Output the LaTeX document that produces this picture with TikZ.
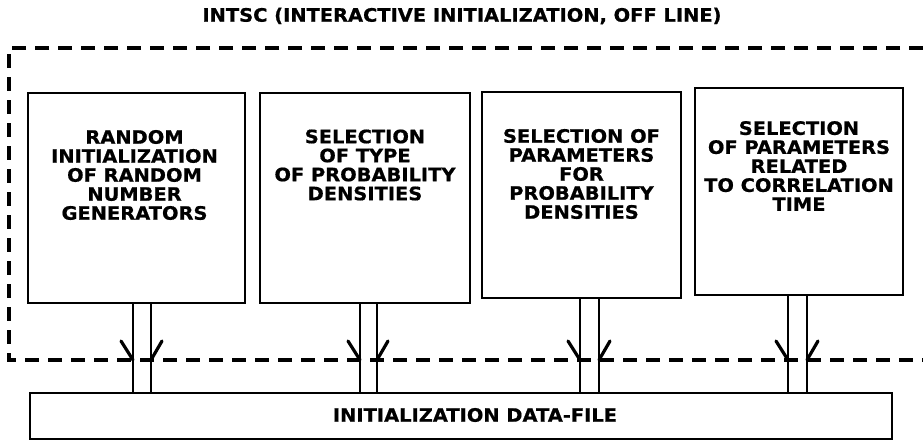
\documentclass[tikz,border=0pt]{standalone}
\usepackage{fontspec}
\usetikzlibrary{calc}
\newfontfamily\labfont{DejaVu Sans Bold}[FakeStretch=1.05, FakeBold=0.7]
\begin{document}
\begin{tikzpicture}[x=1pt,y=-1pt,
  box/.style={draw, line width=2.4pt, inner sep=0pt},
  lab/.style={align=center, inner sep=0pt,
    font=\labfont\fontsize{18.5}{19}\selectfont},
  frame/.style={line width=3.2pt, dash pattern=on 14pt off 9pt},
  pipe/.style={line width=2.8pt},
  barb/.style={line width=3.2pt, line cap=round}]
\useasboundingbox (0,0) rectangle (923,442);

% title of the interactive (off line) part
\node[lab] (title) at (462,16) {INTSC (INTERACTIVE INITIALIZATION, OFF LINE)};

% dashed boundary of the off-line part, open to the right
\coordinate (ftr) at (923,48);
\coordinate (ftl) at (9,48);
\coordinate (fbl) at (9,360);
\coordinate (fbr) at (923,360);
\draw[frame] (ftr) -- (ftl) -- (fbl) -- (fbr);

% the four initialization steps
\node[box, minimum width=217pt, minimum height=210pt] (b1) at (136.5,198) {};
\node[box, minimum width=210pt, minimum height=210pt] (b2) at (365,198) {};
\node[box, minimum width=199pt, minimum height=206pt] (b3) at (581.5,195) {};
\node[box, minimum width=208pt, minimum height=207pt] (b4) at (799,191.5) {};

\node[lab] (t1) at (134.5,175) {RANDOM\\INITIALIZATION\\OF RANDOM\\NUMBER\\GENERATORS};
\node[lab] (t2) at (365,165) {SELECTION\\OF TYPE\\OF PROBABILITY\\DENSITIES};
\node[lab] (t3) at (581.5,174) {SELECTION OF\\PARAMETERS\\FOR\\PROBABILITY\\DENSITIES};
\node[lab] (t4) at (799,166) {SELECTION\\OF PARAMETERS\\RELATED\\TO CORRELATION\\TIME};

% data file collecting the results
\node[box, minimum width=862pt, minimum height=46pt] (data) at (461,416) {};
\node[lab] (dt) at (475,415) {INITIALIZATION DATA-FILE};

% double-line channels from each step to the data file, with split arrowheads
\foreach \b/\xl/\xr in {b1/133/151, b2/360/377, b3/580/599, b4/788/807} {
  \coordinate (cl) at (\xl,0);
  \coordinate (cr) at (\xr,0);
  \draw[pipe] (\b.south -| cl) -- (data.north -| cl);
  \draw[pipe] (\b.south -| cr) -- (data.north -| cr);
  \draw[barb] ($(cl |- fbl)+(-12,-19)$) -- (cl |- fbl);
  \draw[barb] ($(cr |- fbl)+(11,-19)$) -- (cr |- fbl);
}
\end{tikzpicture}
\end{document}
